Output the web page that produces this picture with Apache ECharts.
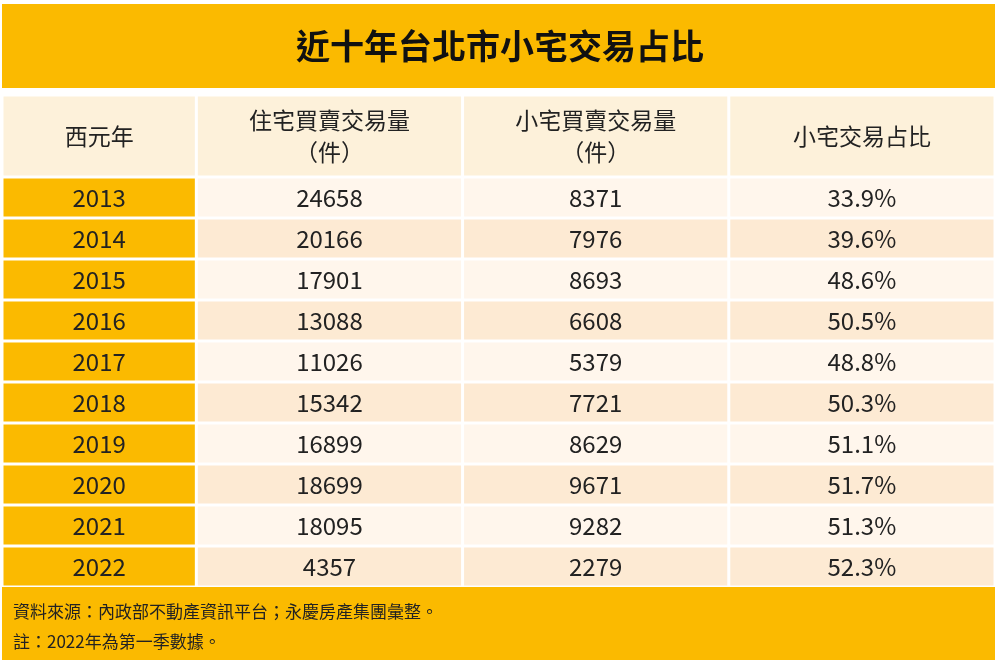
<html>
<head>
<meta charset="utf-8" />
<script src="https://cdn.jsdelivr.net/npm/echarts@6/dist/echarts.min.js"></script>
<style>
  html, body { margin: 0; background: #fff; }
  #table { width: 1000px; height: 667px; }
</style>
</head>
<body>
<div id="table"></div>
<script>
    const headers = ['西元年', '住宅買賣交易量\n（件）', '小宅買賣交易量\n（件）', '小宅交易占比'];
    const years = ['2013', '2014', '2015', '2016', '2017', '2018', '2019', '2020', '2021', '2022'];
    const totalDeals = [24658, 20166, 17901, 13088, 11026, 15342, 16899, 18699, 18095, 4357];
    const smallDeals = [8371, 7976, 8693, 6608, 5379, 7721, 8629, 9671, 9282, 2279];
    const smallRatio = ['33.9%', '39.6%', '48.6%', '50.5%', '48.8%', '50.3%', '51.1%', '51.7%', '51.3%', '52.3%'];

    // column edges on the x value axis (first column is narrower)
    const colEdges = [0, 0.73, 1.73, 2.73, 3.73];
    const ORANGE = '#FBBA00';

    let cells = [];
    headers.forEach(function (h, c) {
        cells.push({ value: [c, 0, 2], label: h, kind: c === 0 ? 'yearHead' : 'head' });
    });
    years.forEach(function (y, i) {
        let r = i + 2;
        let shade = i % 2 === 0 ? 'light' : 'dark';
        cells.push({ value: [0, r, 1], label: y, kind: 'year' });
        cells.push({ value: [1, r, 1], label: String(totalDeals[i]), kind: shade });
        cells.push({ value: [2, r, 1], label: String(smallDeals[i]), kind: shade });
        cells.push({ value: [3, r, 1], label: smallRatio[i], kind: shade });
    });

    const fills = { yearHead: '#FDF1DA', head: '#FDF1DA', year: ORANGE, light: '#FFF6EC', dark: '#FDEAD3' };

    let chart = echarts.init(document.getElementById('table'));
    chart.setOption({
        animation: false,
        title: [
            {
                text: '近十年台北市小宅交易占比', left: 'center', top: 24,
                textStyle: { fontFamily: 'Noto Sans CJK TC', fontSize: 34, fontWeight: 'bold', color: '#111' }
            },
            {
                text: '資料來源：內政部不動產資訊平台；永慶房產集團彙整。\n註：2022年為第一季數據。',
                left: 8, top: 592,
                textStyle: { fontFamily: 'Noto Sans CJK TC', fontSize: 17, fontWeight: 'normal', color: '#222', lineHeight: 30 }
            }
        ],
        graphic: [
            { type: 'rect', z: -10, shape: { x: 2, y: 4, width: 993, height: 84 }, style: { fill: ORANGE } },
            { type: 'rect', z: -10, shape: { x: 2, y: 587, width: 993, height: 73 }, style: { fill: ORANGE } }
        ],
        grid: { left: 2, right: 5, top: 95, bottom: 80 },
        xAxis: { type: 'value', min: 0, max: 3.73, show: false },
        yAxis: { type: 'value', min: 0, max: 12, inverse: true, show: false },
        series: [{
            type: 'custom',
            data: cells,
            renderItem: function (params, api) {
                let item = cells[params.dataIndex];
                let c = api.value(0), r = api.value(1), span = api.value(2);
                let p0 = api.coord([colEdges[c], r]);
                let p1 = api.coord([colEdges[c + 1], r + span]);
                let head = item.kind === 'head' || item.kind === 'yearHead';
                return {
                    type: 'group',
                    children: [
                        {
                            type: 'rect',
                            shape: { x: p0[0] + 1.5, y: p0[1] + 1.5, width: p1[0] - p0[0] - 3, height: p1[1] - p0[1] - 3 },
                            style: { fill: fills[item.kind] }
                        },
                        {
                            type: 'text',
                            x: (p0[0] + p1[0]) / 2, y: (p0[1] + p1[1]) / 2,
                            style: {
                                text: item.label, align: 'center', verticalAlign: 'middle',
                                fontFamily: 'Noto Sans CJK TC', fontSize: head ? 23 : 24,
                                lineHeight: 32, fill: '#222'
                            }
                        }
                    ]
                };
            }
        }]
    });
</script>
</body>
</html>
